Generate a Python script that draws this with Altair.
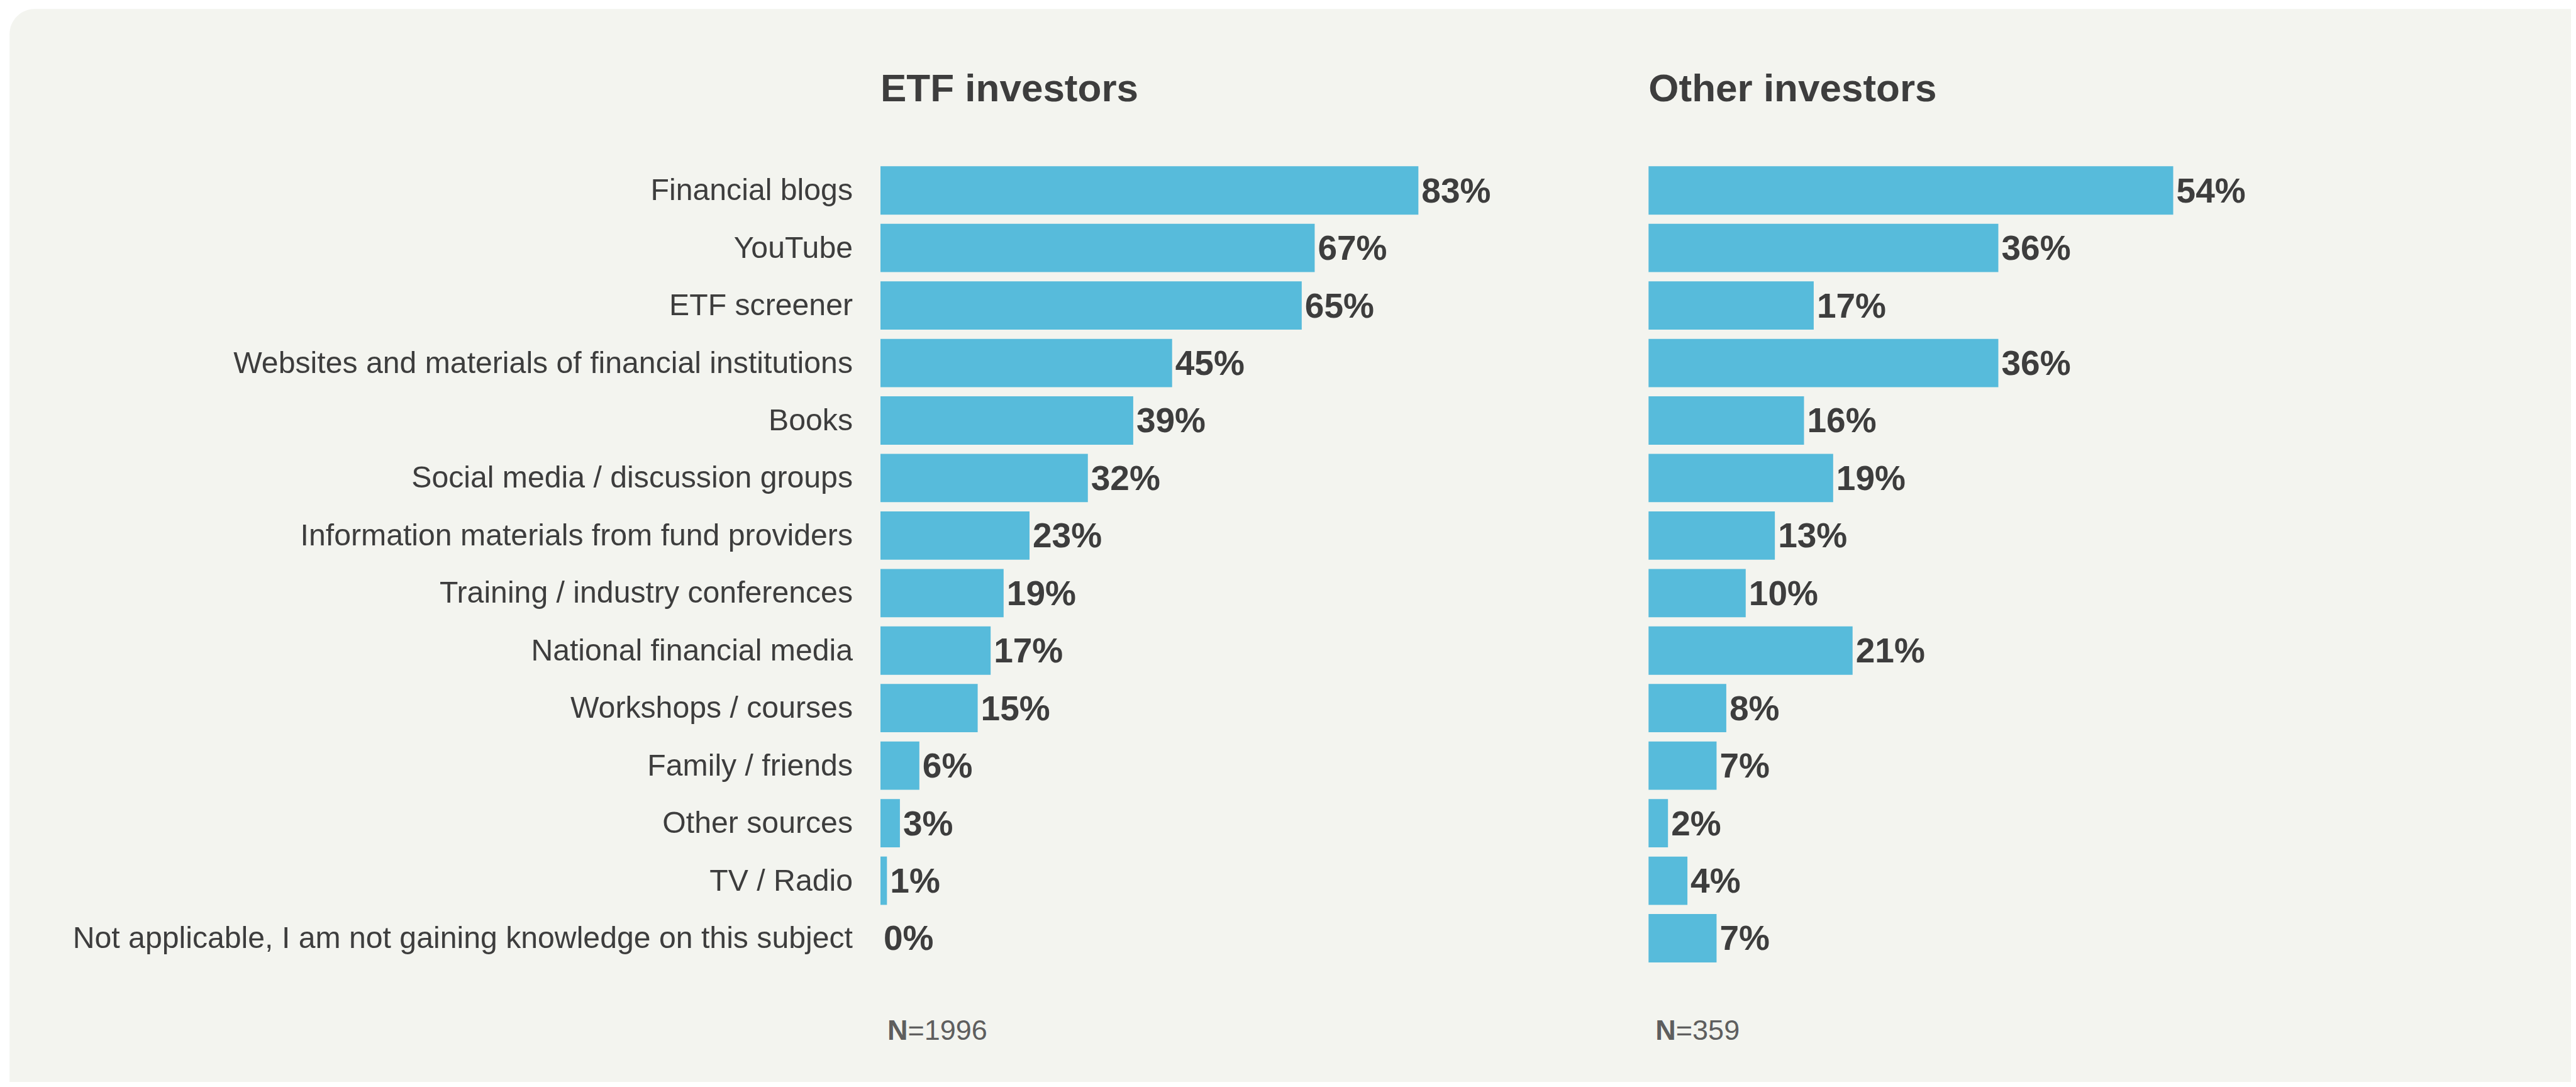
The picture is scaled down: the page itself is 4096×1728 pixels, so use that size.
import altair as alt
import pandas as pd

# ---- data ----
categories = [
    "Financial blogs",
    "YouTube",
    "ETF screener",
    "Websites and materials of financial institutions",
    "Books",
    "Social media / discussion groups",
    "Information materials from fund providers",
    "Training / industry conferences",
    "National financial media",
    "Workshops / courses",
    "Family / friends",
    "Other sources",
    "TV / Radio",
    "Not applicable, I am not gaining knowledge on this subject",
]
etf_values = [83, 67, 65, 45, 39, 32, 23, 19, 17, 15, 6, 3, 1, 0]
other_values = [54, 36, 17, 36, 16, 19, 13, 10, 21, 8, 7, 2, 4, 7]
panel_titles = ["ETF investors", "Other investors"]
sample_sizes = [1996, 359]

# ---- layout / style ----
W = 2688
H = 1280.2
PAD_L, PAD_T = 1392, 249
PAD_B = 1712 - PAD_T - H

BAR = "#57BBDB"
INK = "#3D3D3D"
GREY = "#5E5E5E"
CARD = "#F3F4EF"
FONT = "Liberation Sans"

ETF_RANGE = [0, 1030.5]
OTHER_RANGE = [1221.3, 1221.3 + 1544.9]


def panel(values, title, n, x_range, show_cats):
    df = pd.DataFrame({
        "cat": categories,
        "value": values,
        "label": [f"{v}%" for v in values],
    })
    xs = alt.Scale(domain=[0, 100], range=x_range, nice=False)
    ys = alt.Scale(paddingInner=0.16, paddingOuter=0.08)
    y = alt.Y("cat:N", sort=categories, scale=ys, axis=None)

    base = alt.Chart(df).encode(y=y)
    bars = base.mark_bar(color=BAR).encode(
        x=alt.X("value:Q", scale=xs, axis=None)
    )
    labels = base.mark_text(
        align="left", baseline="middle", dx=5, dy=2,
        font=FONT, fontSize=55, fontWeight="bold", color=INK,
    ).encode(
        x=alt.X("value:Q", scale=xs, axis=None),
        text="label:N",
    )
    layers = [bars, labels]
    if show_cats:
        cats = base.mark_text(
            align="right", baseline="middle", dy=1.5,
            font=FONT, fontSize=48.2, color=INK,
        ).encode(
            x=alt.value(-44),
            text="cat:N",
        )
        layers.append(cats)

    tdf = pd.DataFrame({"x": [0], "title": [title], "n": ["N"], "rest": [f"={n}"]})
    tbase = alt.Chart(tdf)
    ttl = tbase.mark_text(
        align="left", baseline="alphabetic",
        font=FONT, fontSize=62, fontWeight="bold", color=INK,
    ).encode(
        x=alt.X("x:Q", scale=xs, axis=None),
        y=alt.value(-96.3),
        text="title:N",
    )
    n_bold = tbase.mark_text(
        align="left", baseline="alphabetic", dx=11,
        font=FONT, fontSize=45, fontWeight="bold", color=GREY,
    ).encode(
        x=alt.X("x:Q", scale=xs, axis=None),
        y=alt.value(1395.9),
        text="n:N",
    )
    n_rest = tbase.mark_text(
        align="left", baseline="alphabetic", dx=11 + 32.5,
        font=FONT, fontSize=45, fontWeight="normal", color=GREY,
    ).encode(
        x=alt.X("x:Q", scale=xs, axis=None),
        y=alt.value(1395.9),
        text="rest:N",
    )
    layers += [ttl, n_bold, n_rest]
    return alt.layer(*layers)


card = alt.Chart(pd.DataFrame({"k": [0]})).mark_rect(
    color=CARD, cornerRadius=40
).encode(
    x=alt.value(7.2 - PAD_L),
    x2=alt.value(W + 80),
    y=alt.value(6.3 - PAD_T),
    y2=alt.value(H + PAD_B + 80),
)

etf = panel(etf_values, panel_titles[0], sample_sizes[0], ETF_RANGE, True)
other = panel(other_values, panel_titles[1], sample_sizes[1], OTHER_RANGE, False)

chart = (
    alt.layer(card, etf, other)
    .resolve_scale(x="independent")
    .properties(
        width=W,
        height=H,
        padding={"left": PAD_L, "top": PAD_T, "right": 0, "bottom": PAD_B},
        autosize=alt.AutoSizeParams(type="none"),
        background="white",
    )
    .configure_view(stroke=None)
)

chart.save("out.html", embed_options={"renderer": "svg", "actions": False})
